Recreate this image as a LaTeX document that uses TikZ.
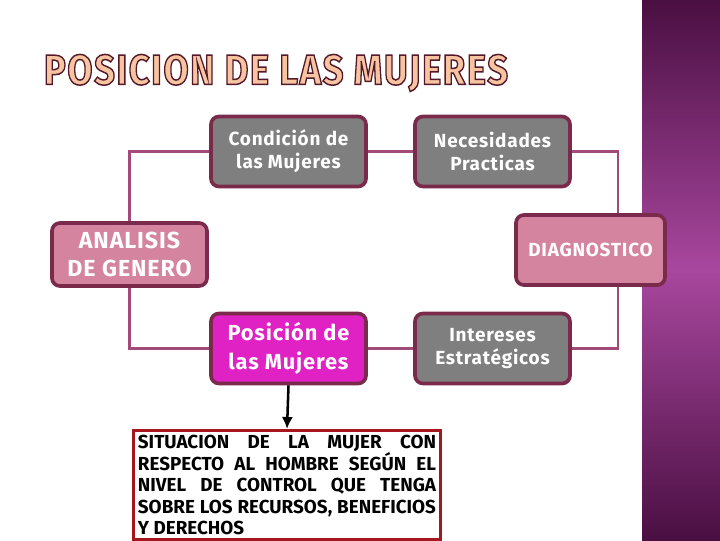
\documentclass[tikz,border=0pt]{standalone}
\usepackage{fontspec}
\setmainfont{Fira Sans}
\usepackage{xcolor}
\usetikzlibrary{arrows.meta}

\definecolor{boxgrey}{HTML}{7F7F7F}
\definecolor{boxline}{HTML}{7A2A4A}
\definecolor{boxpink}{HTML}{D4849E}
\definecolor{boxmagenta}{HTML}{E021C4}
\definecolor{linkcol}{HTML}{A34B78}
\definecolor{bandtop}{HTML}{4A0F42}
\definecolor{bandmid}{HTML}{A8479E}
\definecolor{titlefill}{HTML}{F7C4A2}
\definecolor{sitline}{HTML}{A5161E}

% outlined letters for the heading
\newcommand{\outlined}[1]{{\color{titlefill}\special{pdf:code 0.33 0.1 0.16 RG 0.35 w 2 Tr}#1\special{pdf:code 0 Tr}}}
% label font in the boxes
\newcommand{\boxfont}[2]{\bfseries\fontsize{#1}{#2}\selectfont\addfontfeature{LetterSpace=4}}

\begin{document}
\begin{tikzpicture}[
  x=0.025cm, y=-0.025cm,
  box/.style={rectangle, draw=boxline, rounded corners=2mm, line width=2.6pt, text=white,
    align=center, minimum width=3.875cm, minimum height=1.75cm, inner sep=1pt},
  greybox/.style={box, fill=boxgrey, font=\boxfont{13.5}{16.5}},
  pinkbox/.style={box, fill=boxpink},
  link/.style={draw=linkcol, line width=1.8pt},
  arr/.style={-{Latex[length=3mm, width=2.8mm]}, line width=1.8pt}
]
\useasboundingbox (0,0) rectangle (720,540);
\fill[white] (0,0) rectangle (720,540);
\shade[top color=bandtop, bottom color=bandtop, middle color=bandmid] (642,0) rectangle (720,540);

\node (title) at (276,73) {\outlined{\resizebox{11.6cm}{0.75cm}{\bfseries\addfontfeature{LetterSpace=4}POSICION DE LAS MUJERES}}};

\node[greybox] (cond) at (288.5,151.5) {Condición de\\las Mujeres};
\node[greybox] (necs) at (492.5,151.5) {Necesidades\\Practicas};
\node[pinkbox, minimum height=1.575cm, font=\boxfont{16.5}{20}] (anal) at (129.5,254.5) {ANALISIS\\DE GENERO};
\node[pinkbox, minimum width=3.725cm, font=\boxfont{13.5}{16}] (diag) at (590.5,250) {DIAGNOSTICO};
\node[box, fill=boxmagenta, font=\boxfont{15.5}{21}] (posi) at (288.5,348.5) {Posición de\\las Mujeres};
\node[greybox] (inter) at (492.5,348.5) {Intereses\\Estratégicos};

\node[draw=sitline, line width=2pt, fill=white, anchor=north, text width=7.45cm, align=justify,
  minimum height=2.72cm, inner sep=0.12cm, font=\bfseries\fontsize{13.4}{15.3}\selectfont] (sit) at (287,429)
  {SITUACION DE LA MUJER CON\linebreak RESPECTO AL HOMBRE SEGÚN EL\linebreak NIVEL DE CONTROL QUE TENGA\linebreak SOBRE LOS RECURSOS, BENEFICIOS\linebreak Y DERECHOS};

\draw[link] (anal.north) |- (cond.west);
\draw[link] (cond) -- (necs);
\draw[link] (necs.east) -| ([xshift=0.69cm]diag.north);
\draw[link] (anal.south) |- (posi.west);
\draw[link] (posi) -- (inter);
\draw[link] (inter.east) -| ([xshift=0.69cm]diag.south);
\draw[arr] (posi.south) -- (sit.north);
\end{tikzpicture}
\end{document}
